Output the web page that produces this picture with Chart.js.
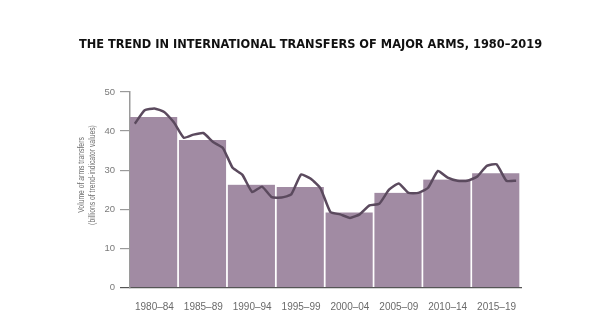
<!DOCTYPE html>
<html>
<head>
<meta charset="utf-8">
<script src="https://cdn.jsdelivr.net/npm/chart.js@4.4.1/dist/chart.umd.min.js"></script>
<style>
html,body{margin:0;padding:0;background:#fff;}
#wrap{width:610px;height:327px;}
</style>
</head>
<body>
<div id="wrap"><canvas id="c" width="610" height="327"></canvas></div>
<script>
// Five-year periods and their averages (billions of TIV)
const periods = ['1980–84','1985–89','1990–94','1995–99','2000–04','2005–09','2010–14','2015–19'];
const periodValues = [43.6, 37.7, 26.3, 25.7, 19.2, 24.2, 27.6, 29.2];

// Yearly values, 1980–2019
const years = ['1980','1981','1982','1983','1984','1985','1986','1987','1988','1989',
               '1990','1991','1992','1993','1994','1995','1996','1997','1998','1999',
               '2000','2001','2002','2003','2004','2005','2006','2007','2008','2009',
               '2010','2011','2012','2013','2014','2015','2016','2017','2018','2019'];
const yearValues = [41.9, 45.3, 45.8, 44.9, 42.2, 38.3, 39.1, 39.5, 37.2, 35.7,
                    30.6, 28.8, 24.4, 25.8, 23.1, 23.0, 23.8, 28.9, 27.8, 25.3,
                    19.3, 18.7, 17.8, 18.7, 21.0, 21.4, 25.0, 26.6, 24.2, 24.2,
                    25.5, 29.8, 28.1, 27.3, 27.3, 28.3, 31.1, 31.5, 27.3, 27.3];

const yTicks = [0, 10, 20, 30, 40, 50];
const titleText = 'THE TREND IN INTERNATIONAL TRANSFERS OF MAJOR ARMS, 1980–2019';
const yTitleLines = ['Volume of arms transfers', '(billions of trend-indicator values)'];

const yTitlePlugin = {
  id: 'yTitle',
  afterDraw(chart) {
    const ctx = chart.ctx;
    ctx.save();
    ctx.fillStyle = '#6e6e6e';
    ctx.font = '8.5px "Liberation Sans", Arial, sans-serif';
    ctx.textAlign = 'center';
    ctx.textBaseline = 'middle';
    const cy = 175;
    const xs = [81.5, 93];
    yTitleLines.forEach((t, i) => {
      ctx.save();
      ctx.translate(xs[i], cy);
      ctx.rotate(-Math.PI / 2);
      ctx.scale(0.8, 1);
      ctx.fillText(t, 0, 0);
      ctx.restore();
    });
    ctx.restore();
  }
};

new Chart(document.getElementById('c'), {
  type: 'bar',
  data: {
    labels: periods,
    datasets: [
      {
        type: 'line',
        data: yearValues,
        xAxisID: 'x2',
        yAxisID: 'y',
        borderColor: '#5b4a5e',
        borderWidth: 2.5,
        pointRadius: 0,
        tension: 0.15,
        fill: false,
        order: 0
      },
      {
        type: 'bar',
        data: periodValues,
        xAxisID: 'x',
        yAxisID: 'y',
        backgroundColor: '#a18ba3',
        borderColor: '#ffffff',
        borderWidth: {left: 0, right: 2, top: 0, bottom: 0},
        borderSkipped: false,
        barPercentage: 1,
        categoryPercentage: 1,
        grouped: false,
        order: 1
      }
    ]
  },
  options: {
    responsive: false,
    animation: false,
    devicePixelRatio: 1,
    layout: {padding: {left: 11, right: 0, top: 0, bottom: 0}},
    plugins: {
      legend: {display: false},
      tooltip: {enabled: false},
      title: {
        display: true,
        text: titleText,
        color: '#111111',
        font: {family: '"DejaVu Sans", sans-serif', size: 11.4, weight: 'bold'},
        padding: {top: 38.7, bottom: 39.6}
      }
    },
    scales: {
      x: {
        type: 'category',
        offset: true,
        grid: {display: false},
        border: {display: true, color: '#555555', width: 1.2},
        ticks: {
          color: '#6a6a6a',
          font: {family: '"Liberation Sans", Arial, sans-serif', size: 10},
          padding: 6,
          maxRotation: 0,
          autoSkip: false
        },
        afterFit(scale) { scale.height = 39.5; }
      },
      x2: {
        type: 'category',
        labels: years,
        offset: true,
        display: false
      },
      y: {
        type: 'linear',
        min: 0,
        max: 50,
        afterBuildTicks(scale) { scale.ticks = yTicks.map(v => ({value: v})); },
        grid: {
          drawOnChartArea: false,
          drawTicks: true,
          tickLength: 10,
          color: (c) => (c.tick && c.tick.value === 0 ? '#555555' : '#9a9a9a'),
          lineWidth: 1.2
        },
        border: {display: true, color: '#9a9a9a', width: 1.5},
        ticks: {
          color: '#7a7a7a',
          font: {family: '"Liberation Sans", Arial, sans-serif', size: 9.5},
          padding: 5
        },
        afterFit(scale) { scale.width = 119; }
      },
      yRightSpace: {
        type: 'linear',
        position: 'right',
        display: true,
        grid: {display: false},
        border: {display: false},
        ticks: {display: false},
        afterFit(scale) { scale.width = 89; }
      }
    }
  },
  plugins: [yTitlePlugin]
});
</script>
</body>
</html>
